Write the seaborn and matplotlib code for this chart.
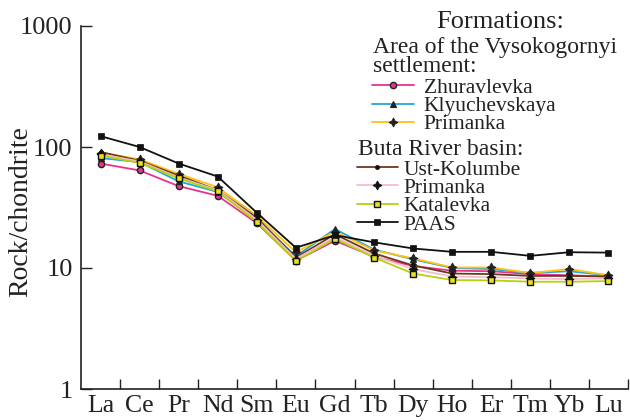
import matplotlib
matplotlib.use("Agg")
import matplotlib.pyplot as plt
import seaborn as sns
import numpy as np
from matplotlib.ticker import FixedLocator, NullLocator, FixedFormatter

sns.set_theme(style="ticks")
plt.rcParams['font.family'] = ['Liberation Serif', 'DejaVu Serif']

elements = ["La", "Ce", "Pr", "Nd", "Sm", "Eu", "Gd", "Tb", "Dy", "Ho", "Er", "Tm", "Yb", "Lu"]

zhuravlevka   = [73, 64, 47.5, 39.5, 23.5, 11.5, 16.8, 12.4, 10.4, 9.5, 9.4, 8.9, 8.7, 8.5]
klyuchevskaya = [81, 75, 52, 42.5, 25, 12.5, 21, 14.2, 11.8, 10.0, 9.8, 9.1, 9.4, 8.7]
primanka_v    = [90, 79, 60, 46.5, 27, 13.5, 20, 14.0, 12.0, 10.1, 10.1, 9.1, 9.8, 8.7]
ust_kolumbe   = [91, 77, 58, 44, 26, 12.2, 19, 13.2, 10.5, 9.0, 8.9, 8.6, 8.6, 8.5]
primanka_b    = [87, 76, 56, 44, 25, 11.9, 18, 12.6, 9.8, 8.5, 8.4, 8.2, 8.1, 8.2]
katalevka     = [85, 74, 55, 43, 24, 11.4, 17.5, 12.2, 9.0, 7.95, 7.9, 7.7, 7.7, 7.8]
paas          = [123, 100, 73, 57, 28.6, 14.7, 18.7, 16.3, 14.5, 13.6, 13.6, 12.6, 13.5, 13.4]

star = (4, 1, 0)
series = [
    ("Zhuravlevka", zhuravlevka, "#E6338E", dict(marker="o", ms=4.5, mfc="#E6338E", mec="#222222", mew=1.0)),
    ("Klyuchevskaya", klyuchevskaya, "#22A7DA", dict(marker="^", ms=4.5, mfc="#222222", mec="#222222", mew=0.8)),
    ("Primanka", primanka_v, "#FFC20E", dict(marker=star, ms=6.5, mfc="#222222", mec="#222222", mew=0.6)),
    ("Ust-Kolumbe", ust_kolumbe, "#6B3A1E", dict(marker="o", ms=3, mfc="#111111", mec="#111111", mew=0.5)),
    ("Primanka", primanka_b, "#F5BCCF", dict(marker=star, ms=6.5, mfc="#111111", mec="#111111", mew=0.6)),
    ("Katalevka", katalevka, "#B7D20A", dict(marker="s", ms=4.5, mfc="#E8E020", mec="#111111", mew=1.0)),
    ("PAAS", paas, "#111111", dict(marker="s", ms=5, mfc="#111111", mec="#111111", mew=0.5)),
]

fig = plt.figure(figsize=(6.3, 4.2), dpi=100)
ax = fig.add_axes([81/630, 31/420, 547/630, 363/420])

handles = []
for name, vals, color, mk in series:
    sns.lineplot(x=elements, y=vals, ax=ax, color=color, lw=1.3, sort=False, **mk)
    handles.append(ax.get_lines()[-1])

ax.set_yscale("log")
ax.set_ylim(1, 1000)
ax.set_xlim(-0.5, 13.5)
ax.yaxis.set_major_locator(FixedLocator([1, 10, 100, 1000]))
ax.yaxis.set_major_formatter(FixedFormatter(["1", "10", "100", "1000"]))
ax.yaxis.set_minor_locator(NullLocator())
ax.set_xticks(range(len(elements)))
ax.set_xticklabels(elements)
ax.set_xticks(np.arange(0.5, 13.6, 1.0), minor=True)
ax.tick_params(axis="x", which="major", length=0, labelsize=18.5, pad=4, colors="#222222")
ax.tick_params(axis="x", which="minor", direction="in", length=7, width=1, color="#222222")
ax.tick_params(axis="y", which="major", direction="in", length=8, width=1, labelsize=19, pad=6, colors="#222222")
for s in ["top", "right"]:
    ax.spines[s].set_visible(False)
for s in ["left", "bottom"]:
    ax.spines[s].set_color("#222222")
    ax.spines[s].set_linewidth(1.2)
ax.set_xlabel("")
ax.set_ylabel("Rock/chondrite", fontsize=20, color="#222222")
ax.yaxis.set_label_coords(-0.088, 0.49)

TXT = "#222222"
fig.text(500/630, 1 - 22/420, "Formations:", ha="center", va="center", fontsize=19, color=TXT)
fig.text(373/630, 1 - 53/420, "Area of the Vysokogornyi", ha="left", va="baseline", fontsize=17, color=TXT)
fig.text(373/630, 1 - 72/420, "settlement:", ha="left", va="baseline", fontsize=17, color=TXT)
fig.text(358/630, 1 - 155/420, "Buta River basin:", ha="left", va="baseline", fontsize=17, color=TXT)

leg1 = fig.legend(handles[:3], [s[0] for s in series[:3]],
                  loc="center left", bbox_to_anchor=(372/630, 1 - 106/420),
                  frameon=False, fontsize=15.5,
                  handlelength=1.95, handletextpad=0.45, labelspacing=-0.08,
                  borderpad=0, borderaxespad=0)
for t in leg1.get_texts():
    t.set_color(TXT)

leg2 = fig.legend(handles[3:], [s[0] for s in series[3:]],
                  loc="center left", bbox_to_anchor=(357/630, 1 - 197/420),
                  frameon=False, fontsize=15.5,
                  handlelength=1.9, handletextpad=0.25, labelspacing=-0.08,
                  borderpad=0, borderaxespad=0)
for t in leg2.get_texts():
    t.set_color(TXT)

fig.savefig("out.png", dpi=100)
